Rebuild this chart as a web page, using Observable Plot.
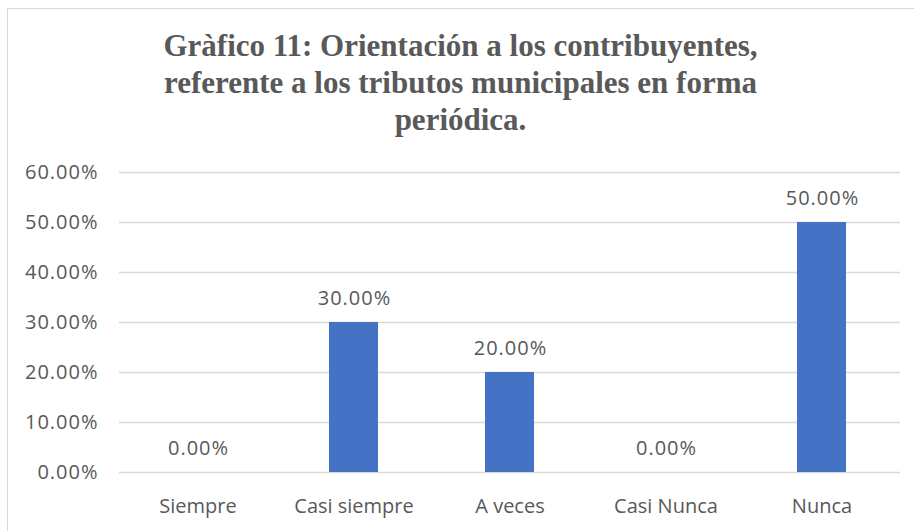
<!DOCTYPE html>
<html>
<head>
<meta charset="utf-8">
<script src="https://cdn.jsdelivr.net/npm/d3@7"></script>
<script src="https://cdn.jsdelivr.net/npm/@observablehq/plot@0.6"></script>
<style>
  html, body { margin: 0; padding: 0; background: #fff; }
  #page { position: relative; width: 914px; height: 531px; overflow: hidden; background: #fff; }
  #frame { position: absolute; left: 7px; top: 8px; right: -2px; bottom: -2px; border-left: 1px solid #D9D9D9; border-top: 1px solid #D9D9D9; }
  #title { position: absolute; left: 7px; right: 0; top: 27px; text-align: center;
    font-family: "Liberation Serif", "Times New Roman", serif; font-weight: bold; font-size: 31px;
    line-height: 37px; color: #595959; }
  #chart { position: absolute; left: 0; top: 150px; }
  .pct-label text, text.pct-label { letter-spacing: 1px; }
</style>
</head>
<body>
<div id="page">
  <div id="frame"></div>
  <div id="title">Gràfico 11: Orientación a los contribuyentes,<br>referente a los tributos municipales en forma<br>periódica.</div>
  <div id="chart"></div>
</div>
<script>
const categories = ["Siempre", "Casi siempre", "A veces", "Casi Nunca", "Nunca"];
const values = [0, 0.30, 0.20, 0, 0.50];
const yTicks = [0, 0.1, 0.2, 0.3, 0.4, 0.5, 0.6];

const data = categories.map((c, i) => ({category: c, value: values[i]}));
const pct = d => (d * 100).toFixed(2) + "%";

const chart = Plot.plot({
  width: 914,
  height: 381,
  marginTop: 22,
  marginBottom: 59,
  marginLeft: 119,
  marginRight: 14,
  style: {fontFamily: "'Open Sans', sans-serif", fontSize: "20px", color: "#595959", background: "transparent"},
  x: {domain: categories, paddingInner: 0.686, paddingOuter: 0.343, label: null},
  y: {domain: [0, 0.6], label: null},
  marks: [
    Plot.gridY(yTicks, {stroke: "#D9D9D9", strokeOpacity: 1, strokeWidth: 1.5}),
    Plot.barY(data, {x: "category", y: "value", fill: "#4472C4"}),
    Plot.text(data, {x: "category", y: "value", text: d => pct(d.value), dy: -24, dx: 0.5, fill: "#595959", fontSize: 20}),
    Plot.axisY(yTicks, {tickSize: 0, tickPadding: 21, tickFormat: pct, label: null}),
    Plot.axisX({tickSize: 0, tickPadding: 26, label: null})
  ]
});
// widen the percentage labels slightly, as in the reference
chart.querySelectorAll("text").forEach(t => {
  if (/%$/.test(t.textContent)) t.setAttribute("letter-spacing", "1");
});
chart.querySelectorAll("tspan").forEach(t => {
  if (/%$/.test(t.textContent)) t.setAttribute("letter-spacing", "1");
});
document.getElementById("chart").appendChild(chart);
</script>
</body>
</html>
